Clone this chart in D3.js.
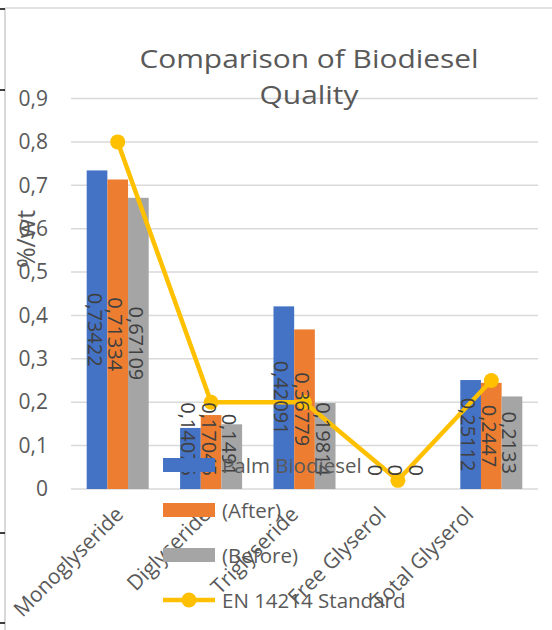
<!DOCTYPE html>
<html>
<head>
<meta charset="utf-8">
<script src="https://cdn.jsdelivr.net/npm/d3@7"></script>
<style>
html,body{margin:0;padding:0;background:#fff;}
svg{display:block;font-family:"Open Sans",sans-serif;}
</style>
</head>
<body>
<svg id="chart" width="552" height="630"></svg>
<script>
const categories = ["Monoglyseride","Diglyseride","Triglyseride","Free Glyserol","Total Glyserol"];
const seriesNames = ["Palm Biodiesel","(After)","(Before)"];
const palmValues = [0.73422, 0.14075, 0.42091, 0, 0.25112];
const afterValues = [0.71334, 0.17045, 0.36779, 0, 0.2447];
const beforeValues = [0.67109, 0.1491, 0.19814, 0, 0.2133];
const standardName = "EN 14214 Standard";
const standardValues = [0.8, 0.2, 0.2, 0.02, 0.25];
const yTicks = [0, 0.1, 0.2, 0.3, 0.4, 0.5, 0.6, 0.7, 0.8, 0.9];
const colors = ["#4472C4","#ED7D31","#A5A5A5"];
const lineColor = "#FFC000";

const seriesValues = [palmValues, afterValues, beforeValues];
const svg = d3.select("#chart");

// frame
svg.append("line").attr("x1",5).attr("x2",552).attr("y1",8).attr("y2",8).attr("stroke","#d9d9d9").attr("stroke-width",1.5);
svg.append("line").attr("x1",5).attr("x2",5).attr("y1",8).attr("y2",630).attr("stroke","#d9d9d9").attr("stroke-width",2);
[9,90,533,623].forEach(yy=>{
  svg.append("line").attr("x1",0).attr("x2",5).attr("y1",yy).attr("y2",yy).attr("stroke","#000").attr("stroke-width",1.5);
});

const x0 = d3.scaleBand().domain(categories).range([71,538]).paddingInner(0.336).paddingOuter(0.168);
const x1 = d3.scaleBand().domain(seriesNames).range([0,x0.bandwidth()]);
const y = d3.scaleLinear().domain([0,0.9]).range([489,98.5]);
// category label anchors (labels are laid out slightly tighter than the bands)
const xLab = d3.scalePoint().domain(categories).range([119,469]);

// gridlines
svg.append("g").selectAll("line").data(yTicks).join("line")
  .attr("x1",71).attr("x2",538)
  .attr("y1",d=>y(d)).attr("y2",d=>y(d))
  .attr("stroke","#d9d9d9").attr("stroke-width",1.5);

// y axis labels
const fmt = d => d===0 ? "0" : d3.format(".1f")(d).replace(".",",");
const yAxis = d3.axisLeft(y).tickValues(yTicks).tickFormat(fmt).tickSize(0).tickPadding(0);
const yg = svg.append("g").attr("transform","translate(48,0)").call(yAxis);
yg.select(".domain").remove();
yg.selectAll("text").attr("font-size",21).attr("fill","#595959").attr("font-family","Open Sans");

// bars
const groups = svg.append("g").selectAll("g").data(categories).join("g")
  .attr("transform",d=>`translate(${x0(d)},0)`);
groups.selectAll("rect").data((c,i)=>seriesNames.map((s,j)=>({s,j,v:seriesValues[j][i]}))).join("rect")
  .attr("x",d=>x1(d.s)).attr("width",x1.bandwidth())
  .attr("y",d=>y(d.v)).attr("height",d=>y(0)-y(d.v))
  .attr("fill",d=>colors[d.j]);

// line
const cx = c => x0(c)+x0.bandwidth()/2;
const lineData = categories.map((c,i)=>({c,v:standardValues[i]}));
svg.append("path").datum(lineData)
  .attr("d",d3.line().x(d=>cx(d.c)).y(d=>y(d.v)))
  .attr("fill","none").attr("stroke",lineColor).attr("stroke-width",4.5).attr("stroke-linejoin","round");
svg.append("g").selectAll("circle").data(lineData).join("circle")
  .attr("cx",d=>cx(d.c)).attr("cy",d=>y(d.v)).attr("r",7.5).attr("fill",lineColor);

// data labels
const labFmt = v => String(v).replace(".",",");
const lab = svg.append("g");
categories.forEach((c,i)=>{
  seriesNames.forEach((s,j)=>{
    const v = seriesValues[j][i];
    const bx = x0(c)+x1(s)+x1.bandwidth()/2;
    const t = lab.append("text").text(labFmt(v))
      .attr("font-size",20).attr("fill","#404040")
      .attr("text-anchor","middle").attr("dominant-baseline","central");
    const len = t.node().getComputedTextLength();
    const cy = Math.min((y(v)+y(0))/2, y(0)-13-len/2);
    t.attr("transform",`translate(${bx-2},${cy}) rotate(90)`);
  });
});

// x labels
const xl = svg.append("g");
categories.forEach(c=>{
  xl.append("text").text(c)
    .attr("font-size",21).attr("fill","#595959")
    .attr("text-anchor","end").attr("dominant-baseline","central")
    .attr("transform",`translate(${xLab(c)},${y(0)+21}) rotate(-45)`);
});

// title
const title = svg.append("text").attr("text-anchor","middle").attr("fill","#595959").attr("font-size",26)
  .attr("transform","translate(309,0) scale(1.15,1)");
title.append("tspan").attr("x",0).attr("y",68).text("Comparison of Biodiesel");
title.append("tspan").attr("x",0).attr("y",104).text("Quality");

// y title
svg.append("text").text("%/wt").attr("font-size",25).attr("fill","#595959")
  .attr("text-anchor","middle").attr("dominant-baseline","central")
  .attr("transform","translate(25,239) rotate(-90)");

// legend
const legY = [465,510,555,600];
const leg = svg.append("g");
seriesNames.forEach((s,j)=>{
  leg.append("rect").attr("x",163).attr("y",legY[j]-7).attr("width",52).attr("height",14).attr("fill",colors[j]);
  leg.append("text").text(s).attr("x",222).attr("y",legY[j]).attr("dominant-baseline","central")
    .attr("font-size",20.5).attr("fill","#595959");
});
leg.append("line").attr("x1",163).attr("x2",215).attr("y1",legY[3]).attr("y2",legY[3]).attr("stroke",lineColor).attr("stroke-width",4.5);
leg.append("circle").attr("cx",189).attr("cy",legY[3]).attr("r",7.5).attr("fill",lineColor);
leg.append("text").text(standardName).attr("x",222).attr("y",legY[3]).attr("dominant-baseline","central")
  .attr("font-size",20.5).attr("fill","#595959");
</script>
</body>
</html>
